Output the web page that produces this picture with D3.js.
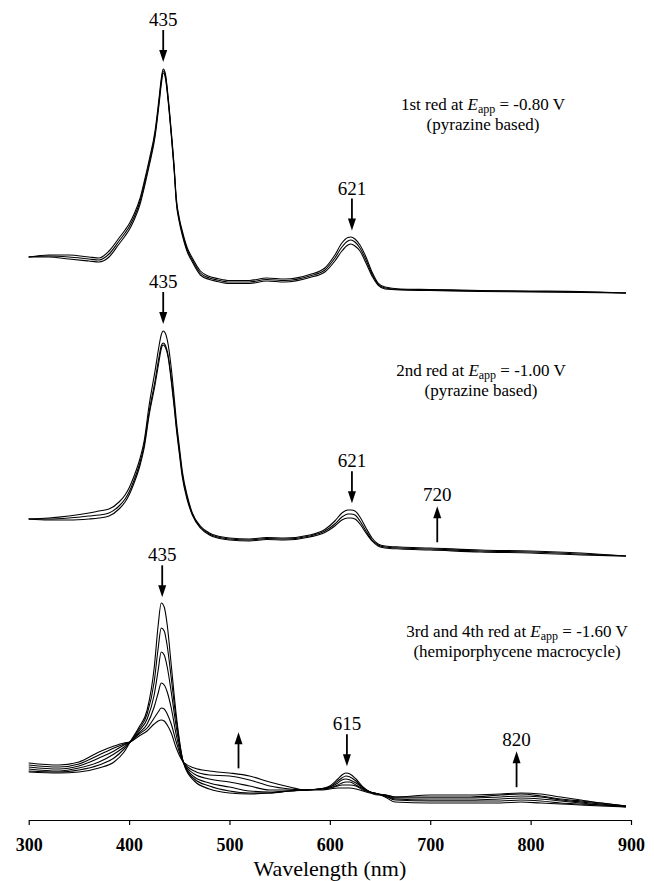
<!DOCTYPE html>
<html>
<head>
<meta charset="utf-8">
<script src="https://cdn.jsdelivr.net/npm/d3@7"></script>
<style>
  html, body { margin: 0; padding: 0; background: #fff; }
  svg { display: block; }
  svg text { font-family: "Liberation Serif", "Times New Roman", "DejaVu Serif", serif; }
</style>
</head>
<body>
<div id="chart"></div>
<script>
// wavelength grid (nm) for the 1st and 2nd reduction spectra
var wavelengths12 = [300, 320, 340, 360, 370, 380, 390, 396, 400, 405, 411, 415, 420, 426, 430, 432, 434, 436, 439, 442,
  445, 447, 450, 453, 458, 463, 471, 480, 488, 500, 520, 537, 555, 580, 595, 605, 612, 618, 621, 625,
  630, 636, 642, 648, 655, 670, 700, 750, 800, 850, 895];

// 1st red at -0.80 V (absorbance, arbitrary units)
var firstRed = [
  [0.43, 0.45, 0.45, 0.43, 0.42, 0.49, 0.62, 0.70, 0.76, 0.86, 1.02, 1.18, 1.40, 1.70, 2.03, 2.21, 2.31, 2.27, 2.02, 1.69,
   1.32, 1.02, 0.82, 0.69, 0.52, 0.42, 0.29, 0.235, 0.215, 0.195, 0.195, 0.22, 0.21, 0.255, 0.32, 0.45, 0.57, 0.625, 0.63, 0.61,
   0.55, 0.43, 0.28, 0.17, 0.13, 0.11, 0.105, 0.095, 0.09, 0.085, 0.07],
  [0.43, 0.44, 0.43, 0.41, 0.40, 0.46, 0.59, 0.67, 0.73, 0.83, 0.99, 1.15, 1.37, 1.67, 2.00, 2.18, 2.29, 2.25, 2.00, 1.67,
   1.30, 1.00, 0.80, 0.67, 0.50, 0.40, 0.27, 0.22, 0.20, 0.18, 0.18, 0.205, 0.195, 0.24, 0.30, 0.42, 0.53, 0.59, 0.60, 0.58,
   0.52, 0.40, 0.26, 0.16, 0.12, 0.105, 0.10, 0.09, 0.085, 0.08, 0.07],
  [0.43, 0.43, 0.41, 0.39, 0.38, 0.43, 0.56, 0.64, 0.70, 0.80, 0.96, 1.12, 1.34, 1.64, 1.97, 2.15, 2.27, 2.23, 1.98, 1.65,
   1.28, 0.98, 0.78, 0.65, 0.48, 0.38, 0.25, 0.205, 0.185, 0.165, 0.165, 0.19, 0.18, 0.225, 0.28, 0.39, 0.49, 0.55, 0.56, 0.54,
   0.49, 0.37, 0.24, 0.15, 0.11, 0.10, 0.095, 0.085, 0.08, 0.075, 0.07]
];

// 2nd red at -1.00 V
var secondRed = [
  [0.61, 0.62, 0.64, 0.67, 0.69, 0.71, 0.78, 0.85, 0.92, 1.04, 1.22, 1.39, 1.75, 2.10, 2.35, 2.45, 2.49, 2.47, 2.35, 2.12,
   1.82, 1.60, 1.34, 1.09, 0.84, 0.67, 0.54, 0.47, 0.44, 0.42, 0.41, 0.425, 0.42, 0.45, 0.505, 0.59, 0.67, 0.70, 0.70, 0.69,
   0.63, 0.52, 0.42, 0.36, 0.34, 0.33, 0.32, 0.30, 0.29, 0.27, 0.24],
  [0.61, 0.61, 0.62, 0.64, 0.65, 0.67, 0.74, 0.81, 0.88, 1.00, 1.18, 1.35, 1.68, 2.00, 2.24, 2.34, 2.37, 2.35, 2.24, 2.02,
   1.75, 1.55, 1.30, 1.06, 0.82, 0.66, 0.53, 0.46, 0.43, 0.41, 0.40, 0.415, 0.41, 0.44, 0.49, 0.56, 0.63, 0.66, 0.66, 0.65,
   0.59, 0.49, 0.40, 0.35, 0.33, 0.32, 0.31, 0.29, 0.28, 0.26, 0.24],
  [0.61, 0.60, 0.60, 0.61, 0.62, 0.64, 0.71, 0.78, 0.85, 0.97, 1.15, 1.32, 1.65, 1.96, 2.20, 2.31, 2.35, 2.33, 2.22, 1.99,
   1.72, 1.52, 1.27, 1.03, 0.80, 0.65, 0.52, 0.45, 0.42, 0.40, 0.39, 0.405, 0.40, 0.43, 0.475, 0.54, 0.60, 0.62, 0.62, 0.61,
   0.56, 0.47, 0.39, 0.34, 0.32, 0.31, 0.30, 0.28, 0.27, 0.25, 0.24]
];

// wavelength grid (nm) for the 3rd and 4th reduction
var wavelengths3 = [300, 330, 350, 370, 385, 395, 401, 410, 418, 425, 429, 432, 435, 438, 442, 447, 454, 465, 480, 500,
  520, 540, 560, 575, 590, 600, 608, 612, 616, 620, 626, 633, 640, 648, 655, 665, 700, 740, 770, 790,
  810, 830, 850, 870, 895];

// 3rd and 4th red at -1.60 V, first to last scan
var thirdRed = [
  [0.48, 0.47, 0.48, 0.52, 0.58, 0.68, 0.78, 0.93, 1.10, 1.52, 1.95, 2.17, 2.13, 1.95, 1.55, 1.05, 0.58, 0.39, 0.31, 0.27,
   0.26, 0.27, 0.29, 0.30, 0.31, 0.34, 0.41, 0.45, 0.47, 0.46, 0.41, 0.33, 0.28, 0.26, 0.23, 0.18, 0.17, 0.17, 0.17, 0.18,
   0.17, 0.16, 0.15, 0.14, 0.13],
  [0.49, 0.48, 0.50, 0.55, 0.62, 0.71, 0.78, 0.91, 1.06, 1.38, 1.72, 1.92, 1.89, 1.74, 1.42, 1.00, 0.58, 0.41, 0.34, 0.29,
   0.27, 0.27, 0.29, 0.30, 0.31, 0.33, 0.39, 0.42, 0.44, 0.43, 0.39, 0.32, 0.28, 0.26, 0.24, 0.20, 0.19, 0.19, 0.19, 0.20,
   0.19, 0.17, 0.16, 0.15, 0.13],
  [0.51, 0.49, 0.52, 0.58, 0.66, 0.73, 0.78, 0.89, 1.01, 1.25, 1.50, 1.68, 1.65, 1.53, 1.28, 0.93, 0.58, 0.43, 0.37, 0.33,
   0.29, 0.28, 0.29, 0.30, 0.31, 0.33, 0.37, 0.40, 0.41, 0.40, 0.37, 0.32, 0.28, 0.26, 0.24, 0.21, 0.20, 0.20, 0.21, 0.22,
   0.21, 0.19, 0.17, 0.15, 0.14],
  [0.53, 0.51, 0.54, 0.62, 0.69, 0.75, 0.78, 0.87, 0.96, 1.13, 1.27, 1.37, 1.35, 1.28, 1.12, 0.85, 0.58, 0.46, 0.41, 0.38,
   0.34, 0.30, 0.30, 0.30, 0.31, 0.32, 0.35, 0.37, 0.38, 0.38, 0.35, 0.31, 0.28, 0.26, 0.25, 0.22, 0.22, 0.22, 0.23, 0.24,
   0.23, 0.20, 0.18, 0.16, 0.14],
  [0.55, 0.53, 0.56, 0.65, 0.72, 0.76, 0.78, 0.86, 0.92, 1.02, 1.08, 1.12, 1.11, 1.06, 0.96, 0.78, 0.58, 0.49, 0.45, 0.44,
   0.40, 0.34, 0.31, 0.30, 0.31, 0.32, 0.34, 0.35, 0.35, 0.35, 0.34, 0.30, 0.28, 0.26, 0.25, 0.23, 0.23, 0.23, 0.25, 0.26,
   0.24, 0.21, 0.19, 0.17, 0.14],
  [0.57, 0.55, 0.58, 0.68, 0.74, 0.77, 0.78, 0.84, 0.89, 0.96, 0.99, 1.00, 0.99, 0.95, 0.87, 0.72, 0.58, 0.52, 0.49, 0.47,
   0.44, 0.38, 0.33, 0.30, 0.30, 0.31, 0.32, 0.32, 0.32, 0.32, 0.31, 0.29, 0.27, 0.25, 0.25, 0.23, 0.25, 0.25, 0.26, 0.27,
   0.26, 0.23, 0.20, 0.17, 0.14]
];

// vertical offset of each stacked panel (absorbance units)
var panelOffsets = [5.2, 2.4, 0];
var xTicks = [300, 400, 500, 600, 700, 800, 900];

var captionSteps = ["1st red at", "2nd red at", "3rd and 4th red at"];
var captionPotentials = ["-0.80 V", "-1.00 V", "-1.60 V"];
var captionNotes = ["(pyrazine based)", "(pyrazine based)", "(hemiporphycene macrocycle)"];

// band markers: where the arrow points, its label, and whether the band grows or bleaches
var markers1 = [ { at: 434, label: "435", dir: "down" }, { at: 622, label: "621", dir: "down" } ];
var markers2 = [ { at: 434, label: "435", dir: "down" }, { at: 622, label: "621", dir: "down" },
  { at: 707, label: "720", dir: "up" } ];
var markers3 = [ { at: 433, label: "435", dir: "down" }, { at: 509, label: "", dir: "up" },
  { at: 617, label: "615", dir: "down" }, { at: 786, label: "820", dir: "up" } ];

var width = 654, height = 881;
var serif = "'Liberation Serif', 'Times New Roman', 'DejaVu Serif', serif";

var svg = d3.select( "#chart" ).append( "svg" )
  .attr( "width", width )
  .attr( "height", height )
  .attr( "font-family", serif );

var x = d3.scaleLinear().domain( [ 300, 900 ] ).range( [ 28.7, 631 ] );
var y = d3.scaleLinear().domain( [ 0, 8.2 ] ).range( [ 820, 0 ] );

function valueAt( wl, series, at ) {
  var i = d3.bisectLeft( wl, at );
  if( wl[ i ] === at ) {
    return series[ i ];
  }
  var t = ( at - wl[ i - 1 ] ) / ( wl[ i ] - wl[ i - 1 ] );
  return series[ i - 1 ] + t * ( series[ i ] - series[ i - 1 ] );
}

var panels = [
  { wl: wavelengths12, spectra: firstRed, markers: markers1, capX: 483, capY: 110 },
  { wl: wavelengths12, spectra: secondRed, markers: markers2, capX: 481, capY: 376 },
  { wl: wavelengths3, spectra: thirdRed, markers: markers3, capX: 517, capY: 637 }
];

panels.forEach( function( panel, p ) {
  var offset = panelOffsets[ p ];
  var g = svg.append( "g" ).attr( "class", "panel" + ( p + 1 ) );

  var line = d3.line()
    .x( function( d, i ) { return x( panel.wl[ i ] ); } )
    .y( function( d ) { return y( d + offset ); } )
    .curve( d3.curveMonotoneX );

  g.selectAll( "path.spectrum" )
    .data( panel.spectra )
    .enter().append( "path" )
    .attr( "class", "spectrum" )
    .attr( "d", line )
    .attr( "fill", "none" )
    .attr( "stroke", "#000" )
    .attr( "stroke-width", 1.1 );

  // arrows
  panel.markers.forEach( function( m ) {
    var top = d3.max( panel.spectra, function( s ) { return valueAt( panel.wl, s, m.at ); } );
    var py = y( top + offset );
    var ax = x( m.at );
    var head = 12, half = 4, shaftTop, tip, labelY;
    if( m.dir === "down" ) {
      tip = py - 7;
      shaftTop = tip - 32;
      g.append( "line" ).attr( "x1", ax ).attr( "x2", ax )
        .attr( "y1", shaftTop ).attr( "y2", tip - head + 1 )
        .attr( "stroke", "#000" ).attr( "stroke-width", 1.8 );
      g.append( "path" )
        .attr( "d", "M" + ( ax - half ) + "," + ( tip - head ) + "L" + ( ax + half ) + "," + ( tip - head ) + "L" + ax + "," + tip + "Z" )
        .attr( "fill", "#000" );
      labelY = shaftTop - 4;
    } else {
      var base = py - 6;
      tip = base - 36;
      g.append( "line" ).attr( "x1", ax ).attr( "x2", ax )
        .attr( "y1", base ).attr( "y2", tip + head - 1 )
        .attr( "stroke", "#000" ).attr( "stroke-width", 1.8 );
      g.append( "path" )
        .attr( "d", "M" + ( ax - half ) + "," + ( tip + head ) + "L" + ( ax + half ) + "," + ( tip + head ) + "L" + ax + "," + tip + "Z" )
        .attr( "fill", "#000" );
      labelY = tip - 5;
    }
    if( m.label ) {
      g.append( "text" )
        .attr( "x", ax )
        .attr( "y", labelY )
        .attr( "text-anchor", "middle" )
        .attr( "font-family", serif )
        .attr( "font-size", 19 )
        .text( m.label );
    }
  } );

  // caption
  var cap = g.append( "text" )
    .attr( "x", panel.capX )
    .attr( "y", panel.capY )
    .attr( "text-anchor", "middle" )
    .attr( "font-family", serif )
    .attr( "font-size", 17 );
  cap.append( "tspan" ).text( captionSteps[ p ] + " " );
  cap.append( "tspan" ).attr( "font-style", "italic" ).text( "E" );
  cap.append( "tspan" ).attr( "font-size", 12 ).attr( "dy", 3 ).text( "app" );
  cap.append( "tspan" ).attr( "dy", -3 ).text( " = " + captionPotentials[ p ] );

  g.append( "text" )
    .attr( "x", panel.capX )
    .attr( "y", panel.capY + 20 )
    .attr( "text-anchor", "middle" )
    .attr( "font-family", serif )
    .attr( "font-size", 17 )
    .text( captionNotes[ p ] );
} );

// x axis
var xAxis = d3.axisBottom( x )
  .tickValues( xTicks )
  .tickSize( 5 )
  .tickSizeOuter( 0 )
  .tickPadding( 13 );

var axisG = svg.append( "g" )
  .attr( "transform", "translate(0," + y( 0 ) + ")" )
  .call( xAxis )
  .attr( "font-family", serif );

axisG.select( ".domain" ).attr( "stroke", "#000" ).attr( "stroke-width", 1.2 );
axisG.selectAll( ".tick line" ).attr( "stroke", "#000" ).attr( "stroke-width", 1.2 );
axisG.selectAll( ".tick text" )
  .attr( "font-size", 18 )
  .attr( "font-weight", "bold" )
  .attr( "fill", "#000" );

svg.append( "text" )
  .attr( "x", ( x( 300 ) + x( 900 ) ) / 2 )
  .attr( "y", 876 )
  .attr( "text-anchor", "middle" )
  .attr( "font-size", 22 )
  .text( "Wavelength (nm)" );
</script>
</body>
</html>
